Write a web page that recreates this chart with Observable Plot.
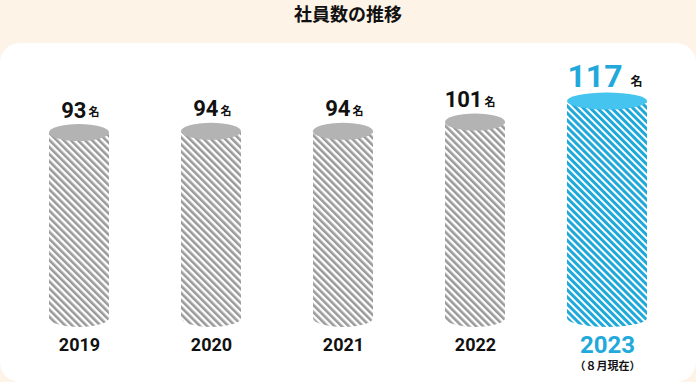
<!DOCTYPE html>
<html><head><meta charset="utf-8">
<script src="https://cdn.jsdelivr.net/npm/d3@7"></script>
<script src="https://cdn.jsdelivr.net/npm/@observablehq/plot@0.6"></script>
<style>
html,body{margin:0;padding:0;background:#fdf3e7;width:696px;height:382px;overflow:hidden;}
#title{height:43px;line-height:28px;text-align:center;font:bold 18px "Noto Sans CJK JP",sans-serif;color:#111;}
#panel{background:#fff;border-radius:20px;height:339px;width:696px;overflow:hidden;}
</style></head><body>
<svg width="0" height="0" style="position:absolute"><defs>
<pattern id="stripeGray" patternUnits="userSpaceOnUse" width="5" height="5" patternTransform="rotate(-45)"><rect width="5" height="5" fill="#fff"/><rect width="2.6" height="5" fill="#9a9a9a"/></pattern>
<pattern id="stripeBlue" patternUnits="userSpaceOnUse" width="5" height="5" patternTransform="rotate(-45)"><rect width="5" height="5" fill="#fff"/><rect width="3" height="5" fill="#1ea9da"/></pattern>
</defs></svg>
<div id="title">社員数の推移</div>
<div id="panel"></div>
<script>
const years = ["2019", "2020", "2021", "2022", "2023"];
const employees = [93, 94, 94, 101, 117];
const unitLabel = "名";
const latestNote = "（８月現在）";
const yFloor = -55;

const rows = years.map((year, i) => ({year, value: employees[i], latest: i === years.length - 1}));
const past = rows.filter(d => !d.latest);
const latest = rows.filter(d => d.latest);

const blue = "#22a9db";
const font = "Roboto, 'Noto Sans CJK JP', sans-serif";

const chart = Plot.plot({
  width: 696,
  height: 339,
  style: {fontFamily: font, background: "transparent"},
  x: {type: "band", domain: years, range: [49, 637], paddingInner: 0.5455, paddingOuter: 0, round: false, axis: null},
  y: {domain: [yFloor, 130], range: [284, 41], axis: null},
  marks: [
    // past years: body
    Plot.barY(past, {x: "year", y1: yFloor, y2: "value", fill: "url(#stripeGray)", rx: 30, ry: 9}),
    Plot.barY(past, {x: "year", y1: "value", y2: "value", fill: "url(#stripeGray)", insetBottom: -30}),
    Plot.barY(past, {x: "year", y1: "value", y2: "value", fill: "#b3b3b3", insetTop: -8.5, insetBottom: -8.5, rx: 30, ry: 8.5}),
    // latest year
    Plot.barY(latest, {x: "year", y1: yFloor, y2: "value", fill: "url(#stripeBlue)", insetLeft: -10, insetRight: -10, rx: 40, ry: 9}),
    Plot.barY(latest, {x: "year", y1: "value", y2: "value", fill: "url(#stripeBlue)", insetLeft: -10, insetRight: -10, insetBottom: -30}),
    Plot.barY(latest, {x: "year", y1: "value", y2: "value", fill: "#45c4ef", insetLeft: -10, insetRight: -10, insetTop: -8.5, insetBottom: -8.5, rx: 40, ry: 8.5}),
    // value labels
    Plot.text(past, {x: "year", y: "value", text: d => String(d.value), textAnchor: "end", lineAnchor: "bottom", dx: 7, dy: -15.5, fontSize: 22, fontWeight: "bold", fill: "#111"}),
    Plot.text(past, {x: "year", y: "value", text: () => unitLabel, textAnchor: "start", lineAnchor: "bottom", dx: 9, dy: -17, fontSize: 11, fontWeight: "bold", fill: "#111"}),
    Plot.text(latest, {x: "year", y: "value", text: d => String(d.value), textAnchor: "end", lineAnchor: "bottom", dx: 15, dy: -14.5, fontSize: 32, fontWeight: "bold", fill: blue}),
    Plot.text(latest, {x: "year", y: "value", text: () => unitLabel, textAnchor: "start", lineAnchor: "bottom", dx: 23, dy: -16, fontSize: 12, fontWeight: "bold", fill: "#111"}),
    // year labels
    Plot.text(past, {x: "year", y: yFloor, text: "year", lineAnchor: "bottom", dy: 23, fontSize: 18, fontWeight: "bold", fill: "#111"}),
    Plot.text(latest, {x: "year", y: yFloor, text: "year", lineAnchor: "bottom", dy: 25, fontSize: 24, fontWeight: "bold", fill: blue}),
    Plot.text(latest, {x: "year", y: yFloor, text: () => latestNote, lineAnchor: "bottom", dy: 42, fontSize: 11, fontWeight: "bold", fill: "#111"})
  ]
});
document.getElementById("panel").appendChild(chart);
</script>
</body></html>
